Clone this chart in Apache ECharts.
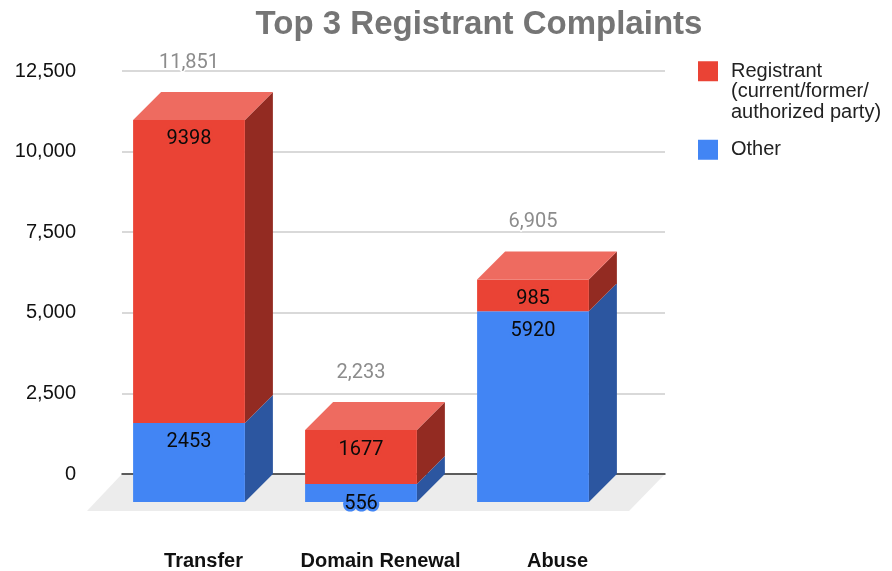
<!DOCTYPE html>
<html>
<head>
    <meta charset="utf-8">
    <title>Top 3 Registrant Complaints</title>
    <script src="https://cdn.jsdelivr.net/npm/echarts@6/dist/echarts.min.js"></script>
    <style>
        html, body { margin: 0; padding: 0; background: #fff; }
    </style>
</head>
<body>
<div id="main" style="width: 892px;height:571px;"></div>
<script type="text/javascript">
    const categories = ['Transfer', 'Domain Renewal', 'Abuse'];
    const otherValues = [2453, 556, 5920];
    const registrantValues = [9398, 1677, 985];
    const totalValues = [11851, 2233, 6905];
    const registrantName = 'Registrant\n(current/former/\nauthorized party)';
    const otherName = 'Other';

    // the fake 3D depth, in pixels
    const DEPTH = 28;
    const LABEL_FONT = '20px Roboto';

    // one stacked block: front, side and (for the top segment) the lid
    function boxRenderer(front, side, lid) {
        return function (params, api) {
            const i = api.value(0);
            const base = api.coord([i, api.value(1)]);
            const top = api.coord([i, api.value(2)]);
            const w = api.size([1, 0])[0] * 0.65;
            const xl = base[0] - DEPTH - w / 2;
            const xr = xl + w;
            const yb = base[1] + DEPTH;
            const yt = top[1] + DEPTH;
            const children = [
                {
                    type: 'polygon',
                    shape: { points: [[xr, yb], [xr + DEPTH, yb - DEPTH], [xr + DEPTH, yt - DEPTH], [xr, yt]] },
                    style: { fill: side }
                },
                {
                    type: 'rect',
                    shape: { x: xl, y: yt, width: w, height: yb - yt },
                    style: { fill: front }
                }
            ];
            if (lid) {
                children.push({
                    type: 'polygon',
                    shape: { points: [[xl, yt], [xl + DEPTH, yt - DEPTH], [xr + DEPTH, yt - DEPTH], [xr, yt]] },
                    style: { fill: lid }
                });
            }
            children.push({
                type: 'text',
                z2: 10,
                style: {
                    x: (xl + xr) / 2,
                    y: yt + 19.5,
                    text: String(api.value(3)),
                    font: LABEL_FONT,
                    fill: '#0a0a0a',
                    align: 'center',
                    verticalAlign: 'middle',
                    stroke: front,
                    lineWidth: 5,
                    strokeFirst: true
                }
            });
            return { type: 'group', children: children };
        };
    }

    function totalRenderer(params, api) {
        const p = api.coord([api.value(0), api.value(1)]);
        return {
            type: 'text',
            style: {
                x: p[0] - DEPTH,
                y: p[1] + DEPTH - 57,
                text: api.value(1).toLocaleString('en-US'),
                font: LABEL_FONT,
                fill: '#8c8c8c',
                align: 'center',
                verticalAlign: 'middle',
                stroke: '#fff',
                lineWidth: 3,
                strokeFirst: true
            }
        };
    }

    function floorRenderer(params) {
        const c = params.coordSys;
        const b = c.y + c.height;
        return {
            type: 'polygon',
            shape: { points: [[c.x, b], [c.x + c.width, b], [c.x + c.width - 36, b + 37], [c.x - 35, b + 37]] },
            style: { fill: '#ececec' }
        };
    }

    let myChart = echarts.init(document.getElementById('main'));

    let gridBox = { top: 71, bottom: 97 };
    let hiddenY = function (idx) {
        return { type: 'value', gridIndex: idx, min: 0, max: 12500, interval: 2500, show: false };
    };

    myChart.setOption({
        animation: false,
        backgroundColor: '#fff',
        title: {
            text: 'Top 3 Registrant Complaints',
            left: 474,
            top: 3,
            textAlign: 'center',
            textStyle: { color: '#757575', fontFamily: 'Liberation Sans', fontWeight: 'bold', fontSize: 33 }
        },
        legend: {
            left: 698,
            top: 20,
            padding: 0,
            orient: 'vertical',
            itemWidth: 20,
            itemHeight: 20,
            itemGap: 17,
            icon: 'rect',
            selectedMode: false,
            // blank lines keep the swatch level with the first line of the long name
            formatter: function (name) {
                return name === registrantName ? '\n\n' + name : name;
            },
            textStyle: { color: '#222', fontFamily: 'Liberation Sans', fontSize: 20, lineHeight: 20.5, padding: [0, 0, 0, 8] },
            data: [registrantName, otherName]
        },
        grid: [
            // gridlines and y axis
            { left: 122, width: 543, top: gridBox.top, bottom: gridBox.bottom },
            // the bars
            { left: 131, width: 516, top: gridBox.top, bottom: gridBox.bottom },
            // category labels sit on their own slightly different band
            { left: 115, width: 531, top: gridBox.top, bottom: gridBox.bottom }
        ],
        xAxis: [
            {
                type: 'category', gridIndex: 0, data: categories,
                axisTick: { show: false },
                axisLabel: { show: false },
                axisLine: { lineStyle: { color: '#333', width: 1.5 } }
            },
            { type: 'category', gridIndex: 1, data: categories, show: false },
            {
                type: 'category', gridIndex: 2, data: categories,
                axisTick: { show: false },
                axisLine: { show: false },
                axisLabel: {
                    margin: 78,
                    interval: 0,
                    color: '#111',
                    fontFamily: 'Liberation Sans',
                    fontWeight: 'bold',
                    fontSize: 20
                }
            }
        ],
        yAxis: [
            {
                type: 'value', gridIndex: 0, min: 0, max: 12500, interval: 2500,
                axisLine: { show: false },
                axisTick: { show: false },
                axisLabel: {
                    margin: 46,
                    color: '#111',
                    fontFamily: 'Liberation Sans',
                    fontSize: 20,
                    formatter: function (v) { return v.toLocaleString('en-US'); }
                },
                splitLine: { lineStyle: { color: '#cccccc', width: 1.5 } }
            },
            hiddenY(1),
            hiddenY(2)
        ],
        series: [
            {
                name: 'Floor',
                type: 'custom',
                xAxisIndex: 0,
                yAxisIndex: 0,
                z: -1,
                silent: true,
                renderItem: floorRenderer,
                data: [[0, 0]]
            },
            {
                name: otherName,
                type: 'custom',
                xAxisIndex: 1,
                yAxisIndex: 1,
                itemStyle: { color: '#4285f4' },
                renderItem: boxRenderer('#4285f4', '#2c56a0', null),
                encode: { x: 0, y: [1, 2] },
                data: otherValues.map(function (v, i) { return [i, 0, v, v]; })
            },
            {
                name: registrantName,
                type: 'custom',
                xAxisIndex: 1,
                yAxisIndex: 1,
                itemStyle: { color: '#ea4335' },
                renderItem: boxRenderer('#ea4335', '#932b22', '#ee6b60'),
                encode: { x: 0, y: [1, 2] },
                data: registrantValues.map(function (v, i) { return [i, otherValues[i], otherValues[i] + v, v]; })
            },
            {
                name: 'Total',
                type: 'custom',
                xAxisIndex: 1,
                yAxisIndex: 1,
                z: 3,
                renderItem: totalRenderer,
                encode: { x: 0, y: 1 },
                data: totalValues.map(function (v, i) { return [i, v]; })
            }
        ]
    });
</script>
</body>
</html>
